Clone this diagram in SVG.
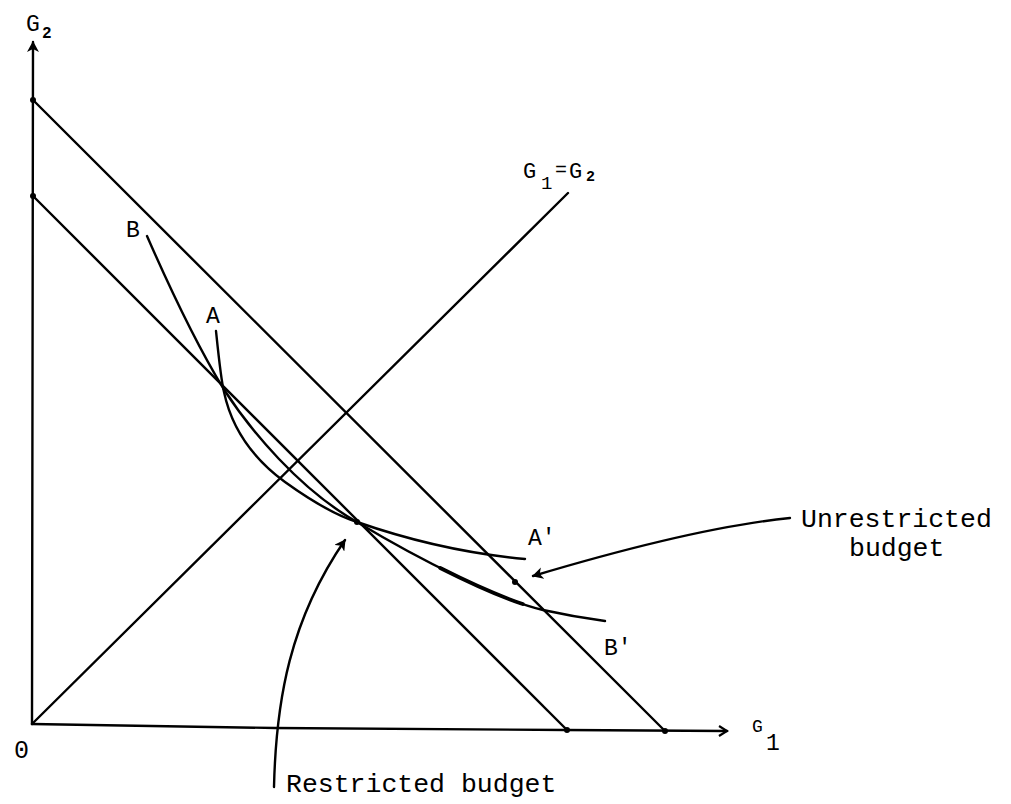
<svg xmlns="http://www.w3.org/2000/svg" width="1011" height="804" viewBox="0 0 1011 804">
<style>
.ln{fill:none;stroke:#000;stroke-width:2.4;stroke-linecap:round}
.t{font-family:"Liberation Mono",monospace;fill:#000}
.dot{fill:#000}
</style>
<defs>
<marker id="ah" viewBox="0 0 12 12" refX="10" refY="6" markerWidth="12" markerHeight="12" markerUnits="userSpaceOnUse" orient="auto">
<path d="M0,0 L11,6 L0,12 L3,6 Z" fill="#000"/>
</marker>
<marker id="ax" viewBox="0 0 12 12" refX="10" refY="6" markerWidth="12" markerHeight="12" markerUnits="userSpaceOnUse" orient="auto">
<path d="M2,1 L10,6 L2,11" fill="none" stroke="#000" stroke-width="2.2"/>
</marker>
</defs>
<rect width="1011" height="804" fill="#fff"/>
<g id="connectors">
<path class="ln" d="M32,724 L33,42" marker-end="url(#ah)"/>
<path class="ln" d="M32,724 L275,728 L565,730 L727,731" marker-end="url(#ax)"/>
<path class="ln" d="M33,100 L665,731"/>
<path class="ln" d="M33,196 L567,730"/>
<path class="ln" d="M32,724 L568,193"/>
<path class="ln" d="M216,331 C219,360 221,380 224,392 C232,430 255,460 285,482 C310,500 335,515 357,522 C400,537 460,553 525,559"/>
<path class="ln" d="M147,236 C175,300 200,350 223,388 C250,430 300,490 357,522 C420,560 500,600 543,610 C570,616 590,619 605,621"/>
<path class="ln" style="stroke-width:3.8;stroke-dasharray:0 95 90 200" d="M357,522 C420,560 500,600 543,610"/>
<path class="ln" d="M274,787 C276,700 290,620 345,540" marker-end="url(#ah)"/>
<path class="ln" d="M790,518 C720,525 620,550 533,576" marker-end="url(#ah)"/>
</g>
<g id="points">
<circle class="dot" cx="33" cy="100" r="3"/>
<circle class="dot" cx="33" cy="196" r="3"/>
<circle class="dot" cx="567" cy="730" r="3"/>
<circle class="dot" cx="665" cy="731" r="3"/>
<circle class="dot" cx="515" cy="582" r="3"/>
<circle class="dot" cx="357" cy="522" r="3"/>
</g>
<g id="label-G2">
<text class="t" x="26" y="31" font-size="23">G</text>
<text class="t" x="42" y="38" font-size="16" font-weight="bold">2</text>
</g>
<g id="label-G1eqG2">
<text class="t" x="523" y="178" font-size="22">G</text>
<text class="t" x="541" y="189" font-size="19">1</text>
<text class="t" x="555" y="176" font-size="20">=</text>
<text class="t" x="569" y="178" font-size="22">G</text>
<text class="t" x="586" y="181" font-size="15" font-weight="bold">2</text>
</g>
<g id="label-G1">
<text class="t" x="752" y="732" font-size="18">G</text>
<text class="t" x="766" y="750" font-size="23">1</text>
</g>
<g id="label-O"><text class="t" x="14" y="758" font-size="25">0</text></g>
<g id="label-B"><text class="t" x="126" y="237" font-size="23">B</text></g>
<g id="label-A"><text class="t" x="206" y="323" font-size="23">A</text></g>
<g id="label-A2"><text class="t" x="528" y="545" font-size="23">A'</text></g>
<g id="label-B2"><text class="t" x="604" y="655" font-size="23">B'</text></g>
<g id="label-unrestricted">
<text class="t" x="801" y="527" font-size="26.5">Unrestricted</text>
<text class="t" x="849" y="556" font-size="26.5">budget</text>
</g>
<g id="label-restricted">
<text class="t" x="286" y="792" font-size="26.5">Restricted budget</text>
</g>
</svg>
